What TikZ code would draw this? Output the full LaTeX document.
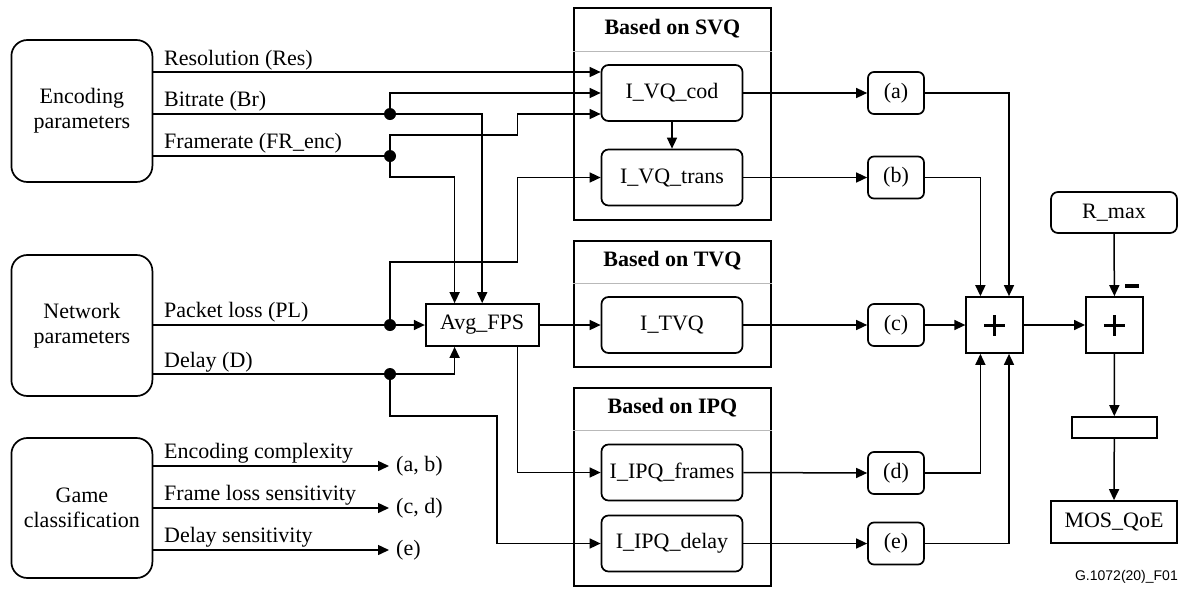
\documentclass[tikz,border=0pt]{standalone}
\usepackage{fontspec}
\setmainfont{Liberation Serif}
\newfontfamily\idfont{Liberation Sans}
\usetikzlibrary{arrows.meta}
\begin{document}
\begin{tikzpicture}[x=1pt,y=-1pt,
  every node/.style={font=\fontsize{22}{25}\selectfont, inner sep=0pt},
  ln/.style={line width=1.5pt},
  arr/.style={line width=1.5pt,-{Triangle[length=11pt,width=10pt]}},
  srcbox/.style={draw,line width=1.7pt,rounded corners=16pt,align=center,minimum width=141pt},
  grpbox/.style={draw,line width=1.7pt,minimum width=197pt},
  inbox/.style={draw,line width=1.7pt,rounded corners=7pt,minimum width=141pt,minimum height=56pt},
  smbox/.style={draw,line width=1.7pt,rounded corners=6pt,minimum width=56pt,minimum height=42pt},
  sqbox/.style={draw,line width=1.7pt},
  hdr/.style={font=\fontsize{22}{25}\selectfont\bfseries},
  lbl/.style={anchor=base west},
  dot/.style={circle,fill,minimum size=12pt,inner sep=0pt},
  sep/.style={line width=0.8pt,gray!55},
  plusbox/.style={draw,line width=1.7pt,minimum width=57pt,minimum height=56pt,
    path picture={\draw[line width=3pt]
      ([xshift=-10.5pt]path picture bounding box.center) -- ([xshift=10.5pt]path picture bounding box.center)
      ([yshift=-10.5pt]path picture bounding box.center) -- ([yshift=10.5pt]path picture bounding box.center);}}
]
\useasboundingbox (0,0) rectangle (1186,590);

% source boxes
\node[srcbox,minimum height=142pt] (enc) at (81.9,111) {Encoding\\parameters};
\node[srcbox,minimum height=141pt] (net) at (81.9,325.5) {Network\\parameters};
\node[srcbox,minimum height=140pt] (game) at (81.9,508) {Game\\classification};

% groups
\node[grpbox,minimum height=212pt] (svq) at (672.4,114) {};
\node[hdr] (hsvq) at (672.4,29) {Based on SVQ};
\draw[sep] (svq.west |- 0,51) -- (svq.east |- 0,51);
\node[grpbox,minimum height=126pt] (tvqg) at (672.4,304) {};
\node[hdr] (htvq) at (672.4,261) {Based on TVQ};
\draw[sep] (tvqg.west |- 0,283) -- (tvqg.east |- 0,283);
\node[grpbox,minimum height=198pt] (ipqg) at (672.4,487) {};
\node[hdr] (hipq) at (672.4,408) {Based on IPQ};
\draw[sep] (ipqg.west |- 0,430) -- (ipqg.east |- 0,430);

% inner boxes
\node[inbox] (vqcod) at (672,93) {I\_VQ\_cod};
\node[inbox] (vqtrans) at (672,177.5) {I\_VQ\_trans};
\node[inbox] (tvq) at (672,325) {I\_TVQ};
\node[inbox] (ipqf) at (672,472.5) {I\_IPQ\_frames};
\node[inbox] (ipqd) at (672,543.5) {I\_IPQ\_delay};

% small boxes
\node[smbox] (a) at (896,93) {(a)};
\node[smbox] (b) at (896,177.5) {(b)};
\node[smbox] (c) at (896,325) {(c)};
\node[smbox] (d) at (896,473) {(d)};
\node[smbox] (e) at (896,543.5) {(e)};

% Avg_FPS
\node[sqbox,minimum width=113pt,minimum height=42pt] (avg) at (482.2,325) {Avg\_FPS};

% plus boxes and right column
\node[plusbox] (p1) at (994.7,325) {};
\node[plusbox] (p2) at (1114.4,325) {};
\node[draw,line width=1.7pt,rounded corners=7pt,minimum width=126pt,minimum height=41pt] (rmax) at (1114,212.5) {R\_max};
\node[sqbox,minimum width=85pt,minimum height=21pt] (emp) at (1114.3,427.5) {};
\node[sqbox,minimum width=126pt,minimum height=42pt] (mos) at (1114,522) {MOS\_QoE};
\node (minus) at (1132,286) {\rule{14pt}{3.2pt}};

% line labels
\node[lbl] (lres) at (164,65) {Resolution (Res)};
\node[lbl] (lbr) at (164,106.7) {Bitrate (Br)};
\node[lbl] (lfr) at (164,148.3) {Framerate (FR\_enc)};
\node[lbl] (lpl) at (164,317.3) {Packet loss (PL)};
\node[lbl] (ld) at (164,367.3) {Delay (D)};
\node[lbl] (lec) at (164,458.3) {Encoding complexity};
\node[lbl] (lfl) at (164,500.7) {Frame loss sensitivity};
\node[lbl] (lds) at (164,542.3) {Delay sensitivity};

% junction dots
\node[dot] (dBr) at (390,114) {};
\node[dot] (dFR) at (390,156) {};
\node[dot] (dPL) at (390,325) {};
\node[dot] (dD) at (390,374) {};

% encoding lines
\draw[arr] (enc.east |- 0,72) -- (vqcod.west |- 0,72);
\draw[ln] (enc.east |- dBr) -- (dBr);
\draw[arr] (dBr.center) |- (vqcod.west);
\draw[arr] (dBr.center) -| (avg.north);
\draw[ln] (enc.east |- dFR) -- (dFR);
\draw[arr] (dFR.center) |- (517.4,135) |- (vqcod.west |- 0,114);
\draw[arr] (dFR.center) |- (454.6,177) -- (avg.north -| 454.6,0);

% network lines
\draw[ln] (net.east |- dPL) -- (dPL);
\draw[arr] (dPL.center) -- (avg.west);
\draw[arr] (dPL.center) |- (517.4,262) |- (vqtrans.west);
\draw[ln] (net.east |- dD) -- (dD);
\draw[arr] (dD.center) -| (avg.south -| 454.6,0);
\draw[arr] (dD.center) |- (496.8,416) |- (ipqd.west);

% Avg_FPS outputs
\draw[arr] (avg.east) -- (tvq.west);
\draw[arr] (avg.south -| 517.4,0) |- (ipqf.west);

% model internals
\draw[arr] (vqcod.south) -- (vqtrans.north);
\draw[arr] (vqcod.east) -- (a.west);
\draw[arr] (vqtrans.east) -- (b.west);
\draw[arr] (tvq.east) -- (c.west);
\draw[arr] (ipqf.east) -- (d.west);
\draw[arr] (ipqd.east) -- (e.west);

% to sum
\draw[arr] (a.east) -| ([xshift=14.3pt]p1.north);
\draw[arr] (b.east) -| ([xshift=-14.3pt]p1.north);
\draw[arr] (c.east) -- (p1.west);
\draw[arr] (d.east) -| ([xshift=-14.3pt]p1.south);
\draw[arr] (e.east) -| ([xshift=14.3pt]p1.south);
\draw[arr] (p1.east) -- (p2.west);
\draw[arr] (rmax.south) -- (p2.north);
\draw[arr] (p2.south) -- (emp.north);
\draw[arr] (emp.south) -- (mos.north);

% game classification
\node[anchor=west] (tab) at (396,466) {(a, b)};
\node[anchor=west] (tcd) at (396,508) {(c, d)};
\node[anchor=west] (te) at (396,550) {(e)};
\draw[arr] (game.east |- tab.west) -- ([xshift=-7pt]tab.west);
\draw[arr] (game.east |- tcd.west) -- ([xshift=-7pt]tcd.west);
\draw[arr] (game.east |- te.west) -- ([xshift=-7pt]te.west);

\node[anchor=east,font=\idfont\fontsize{14}{16}\selectfont] (fid) at (1178,577) {G.1072(20)\_F01};
\end{tikzpicture}
\end{document}
